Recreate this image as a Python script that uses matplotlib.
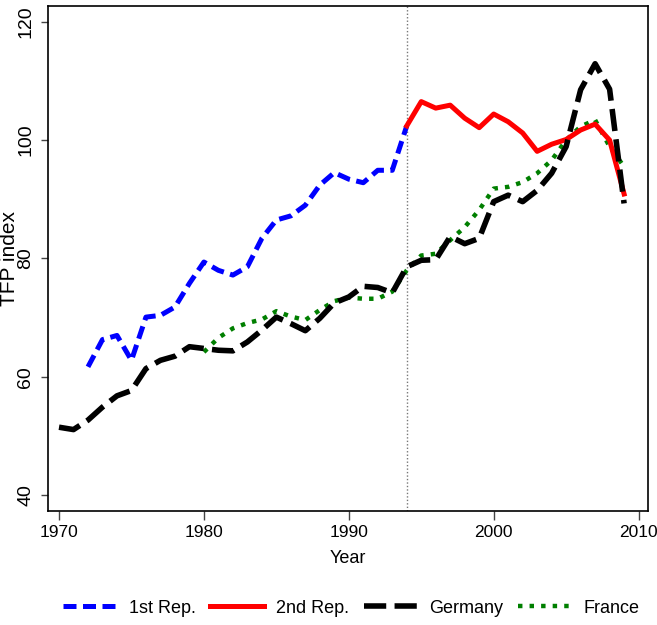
import matplotlib
matplotlib.use('Agg')
import matplotlib.pyplot as plt

plt.rcParams['font.family'] = ['Liberation Sans', 'DejaVu Sans']

#===================================================
#                     Data
#===================================================

years_rep1 = list(range(1972, 1995))
tfp_rep1 = [61.7, 66.3, 67.0, 62.8, 70.1, 70.4, 71.8, 75.8, 79.4, 78.0, 77.2,
            78.6, 83.4, 86.5, 87.2, 89.0, 92.4, 94.5, 93.4, 92.8, 94.9, 94.9,
            102.4]

years_rep2 = list(range(1994, 2010))
tfp_rep2 = [102.4, 106.5, 105.4, 105.9, 103.7, 102.1, 104.4, 103.1, 101.2,
            98.1, 99.3, 100.1, 101.7, 102.7, 100.0, 90.9]

years_ger = list(range(1970, 2010))
tfp_ger = [51.5, 51.1, 52.7, 54.9, 56.8, 57.7, 61.4, 62.8, 63.5, 65.1,
           64.8, 64.5, 64.4, 65.9, 67.9, 70.1, 69.0, 67.8, 69.9, 72.5,
           73.5, 75.3, 75.1, 74.2, 78.6, 79.7, 79.8, 83.7, 82.5, 83.4,
           89.6, 90.7, 89.6, 91.5, 94.4, 98.9, 108.5, 112.9, 108.6, 89.3]

years_fra = list(range(1980, 2010))
tfp_fra = [64.2, 66.6, 68.2, 69.1, 69.7, 71.1, 70.2, 69.6, 71.3, 72.8,
           73.4, 73.2, 73.2, 74.4, 78.0, 80.5, 80.8, 83.1, 85.3, 88.2,
           91.8, 92.1, 92.9, 94.4, 96.6, 100.0, 102.3, 103.4, 98.9, 95.5]

break_year = 1994

#===================================================
#                     Plot
#===================================================

fig = plt.figure(figsize = (6.57, 6.25), dpi = 100)
ax = fig.add_axes([0.0735, 0.1829, 0.9128, 0.8075])

ax.axvline(break_year, color = '#777777', linewidth = 1.0,
           linestyle = (0, (1, 1.5)), zorder = 1)

ax.plot(years_rep1, tfp_rep1, color = 'blue', linewidth = 3.6,
        linestyle = (0, (2.6, 1.3)), label = '1st Rep.', zorder = 3)
ax.plot(years_rep2, tfp_rep2, color = 'red', linewidth = 3.6,
        linestyle = '-', label = '2nd Rep.', zorder = 3)
ax.plot(years_ger, tfp_ger, color = 'black', linewidth = 4,
        linestyle = (0, (4, 1.5)), label = 'Germany', zorder = 4)
ax.plot(years_fra, tfp_fra, color = '#007f00', linewidth = 3.2,
        linestyle = (0, (1, 1.6)), label = 'France', zorder = 2)

ax.set_xlim(1969.26, 2010.65)
ax.set_ylim(37.4, 122.65)
ax.set_xticks([1970, 1980, 1990, 2000, 2010])
ax.set_yticks([40, 60, 80, 100, 120])

for s in ax.spines.values():
    s.set_linewidth(1.2)

ax.tick_params(axis = 'x', direction = 'out', length = 6.5, width = 1,
               color = '#444444', pad = 4, labelsize = 12.5)
ax.tick_params(axis = 'y', direction = 'out', length = 5, width = 1,
               color = '#444444', pad = 5, labelsize = 14)
for lab in ax.get_yticklabels():
    lab.set_rotation(90)
    lab.set_verticalalignment('center')

ax.set_xlabel('Year', fontsize = 13, labelpad = 7)
ax.set_ylabel('TFP index', fontsize = 15)
ax.yaxis.set_label_coords(-0.049, 0.5)

leg = fig.legend(loc = 'center', bbox_to_anchor = (0.535, 0.027), ncol = 4,
                 frameon = False, handlelength = 3.0, columnspacing = 0.8,
                 handletextpad = 0.65, prop = {'size': 13})

plt.savefig('out.png', dpi = 100)
